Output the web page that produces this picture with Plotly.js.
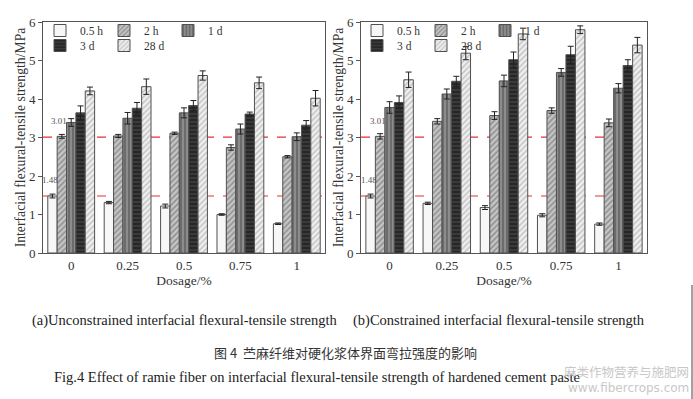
<!DOCTYPE html>
<html>
<head>
<meta charset="utf-8">
<script src="https://cdn.plot.ly/plotly-3.0.1.min.js"></script>
<style>
html,body{margin:0;padding:0;background:#fff;}
#chart{width:693px;height:399px;}
</style>
</head>
<body>
<div id="chart"></div>
<script>
// ---------- data ----------
var categories = ['0', '0.25', '0.5', '0.75', '1'];
var seriesNames = ['0.5 h', '2 h', '1 d', '3 d', '28 d'];

// (a) unconstrained interfacial flexural-tensile strength (MPa)
var u05h = [1.48, 1.31, 1.22, 1.00, 0.76];
var u2h  = [3.03, 3.04, 3.11, 2.74, 2.50];
var u1d  = [3.39, 3.50, 3.64, 3.22, 3.02];
var u3d  = [3.64, 3.76, 3.83, 3.61, 3.32];
var u28d = [4.21, 4.32, 4.61, 4.42, 4.02];
var u05hErr = [0.05, 0.03, 0.05, 0.02, 0.02];
var u2hErr  = [0.05, 0.04, 0.03, 0.07, 0.03];
var u1dErr  = [0.10, 0.15, 0.13, 0.13, 0.10];
var u3dErr  = [0.18, 0.15, 0.13, 0.05, 0.12];
var u28dErr = [0.10, 0.20, 0.12, 0.15, 0.20];

// (b) constrained interfacial flexural-tensile strength (MPa)
var c05h = [1.48, 1.29, 1.18, 0.98, 0.75];
var c2h  = [3.03, 3.42, 3.57, 3.70, 3.38];
var c1d  = [3.78, 4.13, 4.47, 4.69, 4.28];
var c3d  = [3.91, 4.46, 5.02, 5.15, 4.87];
var c28d = [4.50, 5.19, 5.69, 5.80, 5.40];
var c05hErr = [0.05, 0.03, 0.05, 0.04, 0.03];
var c2hErr  = [0.07, 0.07, 0.10, 0.07, 0.10];
var c1dErr  = [0.15, 0.13, 0.15, 0.10, 0.12];
var c3dErr  = [0.17, 0.13, 0.20, 0.22, 0.15];
var c28dErr = [0.20, 0.17, 0.15, 0.10, 0.20];

// reference levels (control group, 2 h and 0.5 h)
var refLevels = [3.01, 1.48];
var refLabels = ['3.01', '1.48'];

var yTickVals = [0, 1, 2, 3, 4, 5, 6];

// ---------- styles ----------
var SERIF = '"Liberation Serif", "Times New Roman", serif';
var styles = [
  {fill: '#f7f7f7', shape: '',  fg: '#f7f7f7'},
  {fill: '#c4c4c4', shape: '/', fg: '#8a8a8a'},
  {fill: '#8c8c8c', shape: '|', fg: '#5e5e5e'},
  {fill: '#3a3a3a', shape: '-', fg: '#1e1e1e'},
  {fill: '#efefef', shape: '/', fg: '#c0c0c0'}
];

var uVals = [u05h, u2h, u1d, u3d, u28d];
var uErrs = [u05hErr, u2hErr, u1dErr, u3dErr, u28dErr];
var cVals = [c05h, c2h, c1d, c3d, c28d];
var cErrs = [c05hErr, c2hErr, c1dErr, c3dErr, c28dErr];

function makeTraces(vals, errs, xa, ya, legA, legB) {
  return vals.map(function (v, i) {
    var st = styles[i];
    var marker = {color: st.fill, line: {color: '#505050', width: 1}};
    if (st.shape) {
      marker.pattern = {shape: st.shape, fgcolor: st.fg, bgcolor: st.fill, size: 4, solidity: 0.35};
    }
    return {
      type: 'bar',
      name: seriesNames[i],
      x: categories,
      y: v,
      xaxis: xa,
      yaxis: ya,
      marker: marker,
      error_y: {type: 'data', array: errs[i], visible: true, color: '#222', thickness: 1, width: 3},
      legend: i < 3 ? legA : legB,
      showlegend: true
    };
  });
}

var data = makeTraces(uVals, uErrs, 'x', 'y', 'legend', 'legend2')
  .concat(makeTraces(cVals, cErrs, 'x2', 'y2', 'legend3', 'legend4'));

// ---------- layout ----------
var axisCommon = {
  showline: true, mirror: true, linecolor: '#555', linewidth: 1,
  showgrid: false, zeroline: false,
  tickfont: {family: SERIF, size: 13, color: '#333'}
};

function xAxis(domain, anchor) {
  return Object.assign({}, axisCommon, {
    domain: domain, anchor: anchor, type: 'category',
    range: [-0.5, 4.5], ticks: '',
    title: {text: 'Dosage/%', font: {family: SERIF, size: 13.5, color: '#333'}, standoff: 0}
  });
}
function yAxis(anchor) {
  return Object.assign({}, axisCommon, {
    anchor: anchor, range: [0, 6], tickvals: yTickVals,
    ticks: 'outside', ticklen: 4, tickcolor: '#555',
    title: {text: 'Interfacial flexural-tensile strength/MPa', font: {family: SERIF, size: 13.7, color: '#333'}, standoff: 0}
  });
}

var shapes = [];
var annotations = [];
[['x', 'y'], ['x2', 'y2']].forEach(function (ax) {
  refLevels.forEach(function (lv, k) {
    shapes.push({
      type: 'line', xref: ax[0] + ' domain', yref: ax[1],
      x0: 0, x1: 1, y0: lv, y1: lv, layer: 'below',
      line: {color: '#e53030', width: 1.2, dash: 'dash'}
    });
    annotations.push({
      xref: ax[0], yref: ax[1], x: categories[0], y: lv,
      xshift: k === 0 ? -12 : -21, yshift: 9,
      yanchor: 'bottom', showarrow: false, text: refLabels[k],
      font: {family: SERIF, size: 9, color: '#555'}
    });
  });
});

// paper coordinate helpers (plot area spans 43..647 px horizontally, 22..253 px vertically)
function px(xp) { return (xp - 43) / 604; }
function py(yp) { return (253 - yp) / 231; }

var capFont = {family: SERIF, size: 14.5, color: '#222'};
function cap(x, y, text, font, xanchor) {
  return {xref: 'paper', yref: 'paper', x: px(x), y: py(y), xanchor: xanchor || 'center',
    yanchor: 'middle', showarrow: false, text: text, font: font};
}
annotations.push(
  cap(185, 320, '(a)Unconstrained interfacial flexural-tensile strength', capFont),
  cap(499, 320, '(b)Constrained interfacial flexural-tensile strength', capFont),
  cap(345, 352, '图 4  苎麻纤维对硬化浆体界面弯拉强度的影响',
      {family: '"Noto Sans CJK SC", sans-serif', size: 13, color: '#333'}),
  cap(317, 377, 'Fig.4 Effect of ramie fiber on interfacial flexural-tensile strength of hardened cement paste', capFont),
  cap(691, 371, '麻类作物营养与施肥网', {family: '"Noto Sans CJK SC", sans-serif', size: 12.5, color: '#c8c8c8'}, 'right'),
  cap(691, 388, 'www.fibercrops.com', {family: '"DejaVu Sans", sans-serif', size: 12, color: '#c8c8c8'}, 'right')
);

shapes.push({type: 'line', xref: 'paper', yref: 'paper', x0: px(692), x1: px(692), y0: py(285), y1: py(399),
  line: {color: '#444', width: 1}});

function legendAt(xp, yp) {
  return {
    orientation: 'h', x: px(xp), y: py(yp), xanchor: 'left', yanchor: 'top',
    bgcolor: 'rgba(255,255,255,0)', borderwidth: 0,
    entrywidth: 19, entrywidthmode: 'pixels', itemwidth: 30,
    font: {family: SERIF, size: 11.5, color: '#333'},
    traceorder: 'normal', itemclick: false, itemdoubleclick: false
  };
}

var layout = {
  width: 693, height: 399,
  margin: {l: 43, r: 46, t: 22, b: 146},
  paper_bgcolor: '#fff', plot_bgcolor: '#fff',
  showlegend: true,
  barmode: 'group', bargap: 0.17, bargroupgap: 0,
  xaxis: xAxis([0, px(325)], 'y'),
  yaxis: yAxis('x'),
  xaxis2: xAxis([px(361), 1], 'y2'),
  yaxis2: yAxis('x2'),
  legend: legendAt(40, 16),
  legend2: legendAt(40, 31),
  legend3: legendAt(357, 16),
  legend4: legendAt(357, 31),
  shapes: shapes,
  annotations: annotations
};

Plotly.newPlot('chart', data, layout, {displayModeBar: false, staticPlot: true});
</script>
</body>
</html>
